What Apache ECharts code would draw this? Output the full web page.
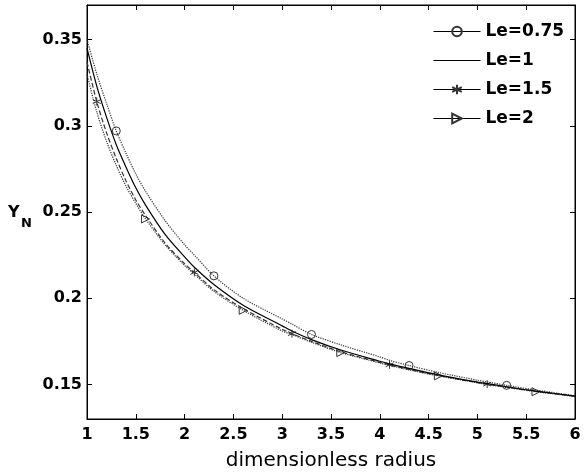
<!DOCTYPE html>
<html>
<head>
<meta charset="utf-8">
<script src="https://cdn.jsdelivr.net/npm/echarts@6/dist/echarts.min.js"></script>
<style>html,body{margin:0;padding:0;background:#fff;}#c{width:586px;height:476px;}</style>
</head>
<body>
<div id="c"></div>
<script>
// ---- data ----
const radius = [1,1.1,1.2,1.3,1.4,1.5,1.6,1.8,2,2.1,2.3,2.6,3,3.1,3.3,3.6,4,4.1,4.3,4.6,5,5.1,5.3,5.6,6];
const yLe075 = [0.350,0.330,0.313,0.297,0.284,0.272,0.262,0.245,0.231,0.225,0.213,0.200,0.188,0.185,0.179,0.173,0.166,0.164,0.161,0.157,0.1525,0.1515,0.1495,0.1468,0.1435];
const yLe1   = [0.345,0.323,0.305,0.289,0.276,0.264,0.254,0.237,0.224,0.218,0.208,0.196,0.184,0.181,0.176,0.170,0.1635,0.162,0.1593,0.1556,0.1514,0.1505,0.1487,0.1462,0.1433];
const yLe15  = [0.337,0.314,0.296,0.281,0.268,0.257,0.248,0.232,0.220,0.215,0.205,0.194,0.182,0.1795,0.175,0.169,0.1628,0.1614,0.1587,0.1552,0.1511,0.1502,0.1485,0.146,0.1432];
const yLe2   = [0.330,0.308,0.291,0.277,0.265,0.255,0.246,0.231,0.219,0.214,0.204,0.193,0.181,0.179,0.1745,0.1685,0.1625,0.161,0.1585,0.155,0.151,0.150,0.1483,0.1458,0.1431];
const marksLe075 = [1.3,2.3,3.3,4.3,5.3];
const marksLe15  = [1.1,2.1,3.1,4.1,5.1];
const marksLe2   = [1.6,2.6,3.6,4.6,5.6];
const seriesNames = ['Le=0.75','Le=1','Le=1.5','Le=2'];
const xTicks = [1,1.5,2,2.5,3,3.5,4,4.5,5,5.5,6];
const yTicks = [0.15,0.2,0.25,0.3,0.35];
const xTitle = 'dimensionless radius';

// ---- build chart ----
const starPath = 'path://M5,0L5,10M0.7,2.5L9.3,7.5M0.7,7.5L9.3,2.5';
const triPath = 'path://M0,0L10,5L0,10Z';
function build(ys, marks, sym) {
  return radius.map((r, i) => ({
    value: [r, ys[i]],
    symbol: (marks && marks.indexOf(r) >= 0) ? sym : 'none'
  }));
}
const markerStyle = {color: 'rgba(0,0,0,0)', borderColor: '#333', borderWidth: 1};
const chart = echarts.init(document.getElementById('c'), null, {renderer: 'canvas'});
const font = 'DejaVu Sans';
chart.setOption({
  animation: false,
  backgroundColor: '#fff',
  grid: {left: 87, right: 11, top: 5, bottom: 53, show: true, borderColor: '#000', borderWidth: 1, backgroundColor: 'transparent'},
  legend: {
    orient: 'vertical', left: 433, top: 23, padding: 0,
    itemWidth: 47, itemHeight: 12, itemGap: 12,
    textStyle: {fontFamily: font, fontWeight: 'bold', fontSize: 17, color: '#000'},
    lineStyle: {type: 'solid', color: '#000', width: 1},
    data: seriesNames
  },
  xAxis: [{
    type: 'value', min: 1, max: 6, interval: 0.5, position: 'bottom',
    axisLine: {show: true, onZero: false, lineStyle: {color: '#000', width: 1}},
    axisTick: {show: true, inside: true, length: 5, lineStyle: {color: '#000'}},
    axisLabel: {show: true, margin: 8, color: '#000', fontFamily: font, fontWeight: 'bold', fontSize: 16,
      customValues: xTicks, formatter: v => String(v)},
    splitLine: {show: false},
    name: xTitle, nameLocation: 'middle', nameGap: 32,
    nameTextStyle: {fontFamily: font, fontSize: 20, color: '#000'}
  }, {
    type: 'value', min: 1, max: 6, interval: 0.5, position: 'top',
    axisLine: {show: true, onZero: false, lineStyle: {color: '#000'}},
    axisTick: {show: true, inside: true, length: 5, lineStyle: {color: '#000'}},
    axisLabel: {show: false}, splitLine: {show: false}
  }],
  yAxis: [{
    type: 'value', min: 0.13, max: 0.37, position: 'left',
    axisLine: {show: true, onZero: false, lineStyle: {color: '#000'}},
    axisTick: {show: true, inside: true, length: 5, customValues: yTicks, lineStyle: {color: '#000'}},
    axisLabel: {show: true, margin: 5, color: '#000', fontFamily: font, fontWeight: 'bold', fontSize: 16,
      customValues: yTicks, formatter: v => String(v)},
    splitLine: {show: false}
  }, {
    type: 'value', min: 0.13, max: 0.37, position: 'right',
    axisLine: {show: true, onZero: false, lineStyle: {color: '#000'}},
    axisTick: {show: true, inside: true, length: 5, customValues: yTicks, lineStyle: {color: '#000'}},
    axisLabel: {show: false}, splitLine: {show: false}
  }],
  graphic: [
    {type: 'text', left: 8, top: 205, style: {text: 'Y', fontFamily: font, fontWeight: 'bold', fontSize: 16, fill: '#000'}},
    {type: 'text', left: 21, top: 217, style: {text: 'N', fontFamily: font, fontWeight: 'bold', fontSize: 13, fill: '#000'}}
  ],
  series: [
    {name: seriesNames[0], type: 'line', smooth: 0.3, showSymbol: true, symbol: 'circle', symbolSize: 8,
     itemStyle: markerStyle, lineStyle: {color: '#333', width: 1.2, type: 'dotted'},
     data: build(yLe075, marksLe075, 'circle'), z: 3},
    {name: seriesNames[1], type: 'line', smooth: 0.3, showSymbol: false, symbol: 'none', symbolSize: 0,
     itemStyle: {color: 'rgba(0,0,0,0)', borderWidth: 0}, lineStyle: {color: '#000', width: 1.2, type: 'solid'},
     data: build(yLe1, null, 'none'), z: 4},
    {name: seriesNames[2], type: 'line', smooth: 0.3, showSymbol: true, symbol: starPath, symbolSize: 8,
     itemStyle: markerStyle, lineStyle: {color: '#333', width: 1.2, type: 'dashed'},
     data: build(yLe15, marksLe15, starPath), z: 3},
    {name: seriesNames[3], type: 'line', smooth: 0.3, showSymbol: true, symbol: triPath, symbolSize: 8,
     itemStyle: markerStyle, lineStyle: {color: '#333', width: 1.2, type: 'dotted'},
     data: build(yLe2, marksLe2, triPath), z: 3}
  ]
});
</script>
</body>
</html>
